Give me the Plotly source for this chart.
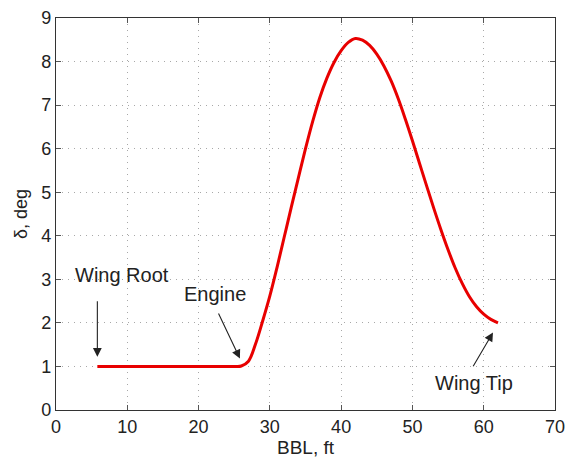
import plotly.graph_objects as go

# Data
bbl_ft = [5.8, 10, 15, 20, 25, 26, 27, 28, 29, 30, 31, 32, 33, 34, 35, 36, 37, 38,
          39, 40, 41, 42, 43, 44, 45, 46, 47, 48, 49, 50, 51, 52, 53, 54, 55, 56,
          57, 58, 59, 60, 61, 62]
delta_deg = [1.0, 1.0, 1.0, 1.0, 1.0, 1.01, 1.12, 1.52, 2.05, 2.62, 3.27, 3.96, 4.65,
             5.33, 6.0, 6.62, 7.17, 7.62, 7.98, 8.25, 8.44, 8.53, 8.49, 8.37, 8.17,
             7.9, 7.56, 7.15, 6.68, 6.18, 5.66, 5.14, 4.63, 4.14, 3.68, 3.26, 2.9,
             2.6, 2.37, 2.2, 2.08, 2.0]

x_ticks = [0, 10, 20, 30, 40, 50, 60, 70]
y_ticks = [0, 1, 2, 3, 4, 5, 6, 7, 8, 9]

ann_labels = ["Wing Root", "Engine", "Wing Tip"]
ann_head_x = [5.8, 25.8, 61.3]
ann_head_y = [1.22, 1.18, 1.78]
ann_tail_x = [5.8, 22.7, 58.4]
ann_tail_y = [2.53, 2.25, 0.97]
ann_text_x = [9.2, 22.3, 58.6]
ann_text_y = [3.1, 2.67, 0.63]

FONT = "Liberation Sans, Arial, sans-serif"

fig = go.Figure()
fig.add_trace(go.Scatter(
    x=bbl_ft, y=delta_deg, mode="lines",
    line=dict(color="rgb(232,0,0)", width=3, shape="spline", smoothing=1.0),
    showlegend=False, hoverinfo="skip"))

annotations = []
for hx, hy, tx, ty in zip(ann_head_x, ann_head_y, ann_tail_x, ann_tail_y):
    annotations.append(dict(
        x=hx, y=hy, ax=tx, ay=ty, xref="x", yref="y", axref="x", ayref="y",
        text="", showarrow=True, arrowhead=2, arrowsize=1.6, arrowwidth=1.1,
        arrowcolor="#222"))

for lab, tx, ty in zip(ann_labels, ann_text_x, ann_text_y):
    annotations.append(dict(x=tx, y=ty, xref="x", yref="y", text=lab, showarrow=False,
                            xanchor="center", yanchor="middle",
                            font=dict(family=FONT, size=20, color="#222")))

axis_common = dict(
    showline=True, linecolor="#333", linewidth=1.2, mirror="ticks",
    ticks="inside", ticklen=5, tickcolor="#555", tickwidth=1,
    showgrid=True, gridcolor="#a8a8a8", griddash="1px,5px", gridwidth=1.2,
    zeroline=False, automargin=False,
    tickfont=dict(family=FONT, size=18, color="#222"))

fig.update_layout(
    width=568, height=461,
    margin=dict(l=56, r=13, t=18, b=51),
    paper_bgcolor="white", plot_bgcolor="white",
    xaxis=dict(range=[0, 70], tickvals=x_ticks, **axis_common,
               title=dict(text="BBL, ft", font=dict(family=FONT, size=19, color="#222"),
                          standoff=2)),
    yaxis=dict(range=[0, 9], tickvals=y_ticks, **axis_common,
               title=dict(text="δ, deg", font=dict(family=FONT, size=18, color="#222"),
                          standoff=8)),
    annotations=annotations,
)

fig.write_html("out.html")
